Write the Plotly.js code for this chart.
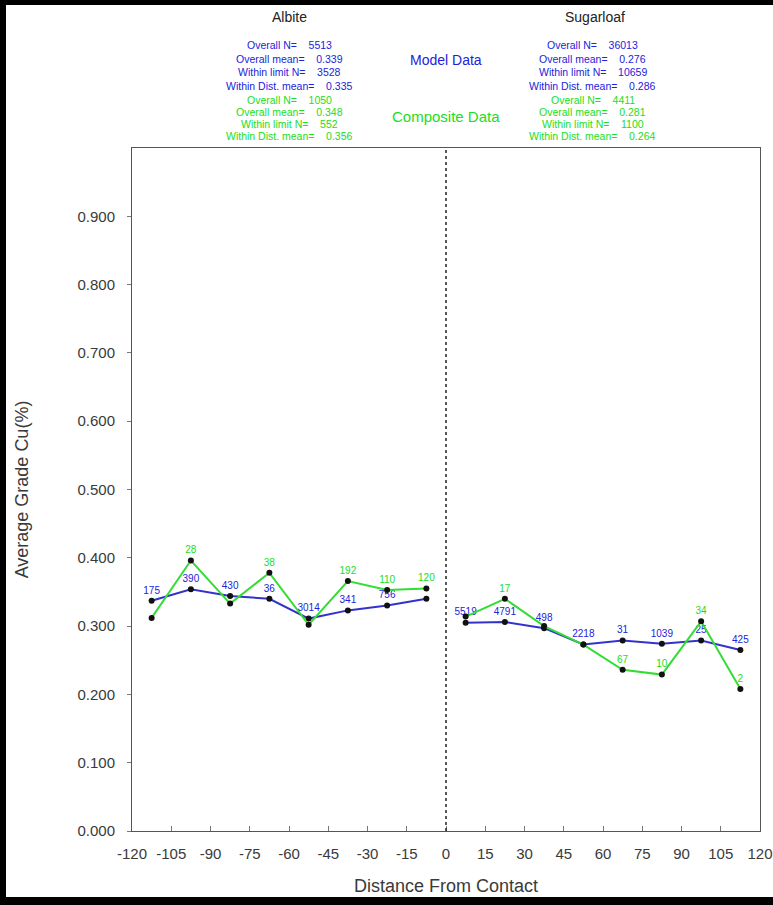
<!DOCTYPE html>
<html>
<head>
<meta charset="utf-8">
<script src="https://cdn.plot.ly/plotly-3.0.1.min.js"></script>
<style>
html,body{margin:0;padding:0;background:#fff;}
#wrap{position:relative;width:773px;height:905px;}
#chart{width:773px;height:905px;}
#frame{position:absolute;left:0;top:0;width:773px;height:905px;box-sizing:border-box;border-left:6px solid #000;border-top:5px solid #000;border-bottom:8px solid #000;pointer-events:none;}
</style>
</head>
<body>
<div id="wrap"><div id="chart"></div><div id="frame"></div></div>
<script>
// Distance bins (centres)
const distLeft  = [-112.5, -97.5, -82.5, -67.5, -52.5, -37.5, -22.5, -7.5];
const distRight = [7.5, 22.5, 37.5, 52.5, 67.5, 82.5, 97.5, 112.5];

// Average grade Cu (%)
const modelLeft  = [0.337, 0.354, 0.344, 0.340, 0.311, 0.323, 0.330, 0.340];
const compLeft   = [0.312, 0.396, 0.333, 0.378, 0.302, 0.366, 0.353, 0.355];
const modelRight = [0.305, 0.306, 0.297, 0.273, 0.279, 0.274, 0.279, 0.265];
const compRight  = [0.314, 0.340, 0.300, 0.273, 0.236, 0.229, 0.307, 0.208];

// Point counts shown next to points
const modelLeftN  = ["175", "390", "430", "36", "3014", "341", "756", ""];
const compLeftN   = ["", "28", "", "38", "", "192", "110", "120"];
const modelRightN = ["5519", "4791", "498", "2218", "31", "1039", "25", "425"];
const compRightN  = ["", "17", "", "", "67", "10", "34", "2"];

// Tick labels
const xTicks = [-120,-105,-90,-75,-60,-45,-30,-15,0,15,30,45,60,75,90,105,120];
const yTicks = [0,0.1,0.2,0.3,0.4,0.5,0.6,0.7,0.8,0.9];

// Summary text
const leftTitle = "Albite";
const rightTitle = "Sugarloaf";
const leftModelStats = ["Overall N=    5513","Overall mean=    0.339","Within limit N=    3528","Within Dist. mean=    0.335"];
const leftCompStats  = ["Overall N=    1050","Overall mean=    0.348","Within limit N=    552","Within Dist. mean=    0.356"];
const rightModelStats = ["Overall N=    36013","Overall mean=    0.276","Within limit N=    10659","Within Dist. mean=    0.286"];
const rightCompStats  = ["Overall N=    4411","Overall mean=    0.281","Within limit N=    1100","Within Dist. mean=    0.264"];

const BLUE = "#2222dd";
const GREEN = "#22dd22";
const FONT = "Liberation Sans, Arial, sans-serif";

function series(x, y, t, color, lineColor) {
  return {
    x: x, y: y, text: t, type: "scatter", mode: "lines+markers+text",
    line: {color: lineColor, width: 2},
    marker: {color: "#111", size: 6},
    textposition: "top center",
    textfont: {family: FONT, size: 10, color: color},
    hoverinfo: "x+y", showlegend: false
  };
}

const data = [
  series(distLeft, modelLeft, modelLeftN, BLUE, "#3333cc"),
  series(distLeft, compLeft, compLeftN, GREEN, "#33dd33"),
  series(distRight, modelRight, modelRightN, BLUE, "#3333cc"),
  series(distRight, compRight, compRightN, GREEN, "#33dd33")
];

const ann = [];
function addText(text, x, yPix, color, size) {
  ann.push({text: text, xref: "x", yref: "paper", x: x, y: 1 + (148 - yPix) / 683,
    yanchor: "middle", xanchor: "center", showarrow: false,
    font: {family: FONT, size: size, color: color}});
}
addText(leftTitle, -60, 17, "#222", 14);
addText(rightTitle, 57, 17, "#222", 14);
const rowsBlue = [45, 59, 72, 86];
const rowsGreen = [100, 112, 124, 136];
leftModelStats.forEach((s,i)=>addText(s, -60, rowsBlue[i], BLUE, 10.5));
leftCompStats.forEach((s,i)=>addText(s, -60, rowsGreen[i], GREEN, 10.5));
rightModelStats.forEach((s,i)=>addText(s, 56, rowsBlue[i], BLUE, 10.5));
rightCompStats.forEach((s,i)=>addText(s, 56, rowsGreen[i], GREEN, 10.5));
addText("Model Data", 0, 60, BLUE, 14);
addText("Composite Data", 0, 116, GREEN, 15);

const layout = {
  width: 773, height: 905,
  margin: {l: 132, r: 13, t: 148, b: 74},
  paper_bgcolor: "#fff", plot_bgcolor: "#fff",
  font: {family: FONT, color: "#333"},
  xaxis: {
    range: [-120, 120], tickvals: xTicks, ticktext: xTicks.map(String),
    showgrid: false, zeroline: false, showline: true, mirror: true,
    linecolor: "#555", linewidth: 1, ticks: "inside", ticklen: 5, tickcolor: "#777",
    ticklabelstandoff: 9,
    tickfont: {family: FONT, size: 15, color: "#3a3a3a"},
    title: {text: "Distance From Contact", font: {family: FONT, size: 18, color: "#3a3a3a"}, standoff: 18}
  },
  yaxis: {
    range: [0, 1.0], tickvals: yTicks, ticktext: yTicks.map(v => v.toFixed(3)),
    showgrid: false, zeroline: false, showline: true, mirror: true,
    linecolor: "#555", linewidth: 1, ticks: "outside", ticklen: 4, tickcolor: "#777",
    ticklabelstandoff: 9,
    tickfont: {family: FONT, size: 15, color: "#3a3a3a"},
    title: {text: "Average Grade Cu(%)", font: {family: FONT, size: 18, color: "#3a3a3a"}, standoff: 44}
  },
  shapes: [{type: "line", xref: "x", yref: "paper", x0: 0, x1: 0, y0: 0, y1: 1,
    line: {color: "#222", width: 1.5, dash: "dot"}}],
  annotations: ann
};

Plotly.newPlot("chart", data, layout, {displayModeBar: false, staticPlot: true});
</script>
</body>
</html>
